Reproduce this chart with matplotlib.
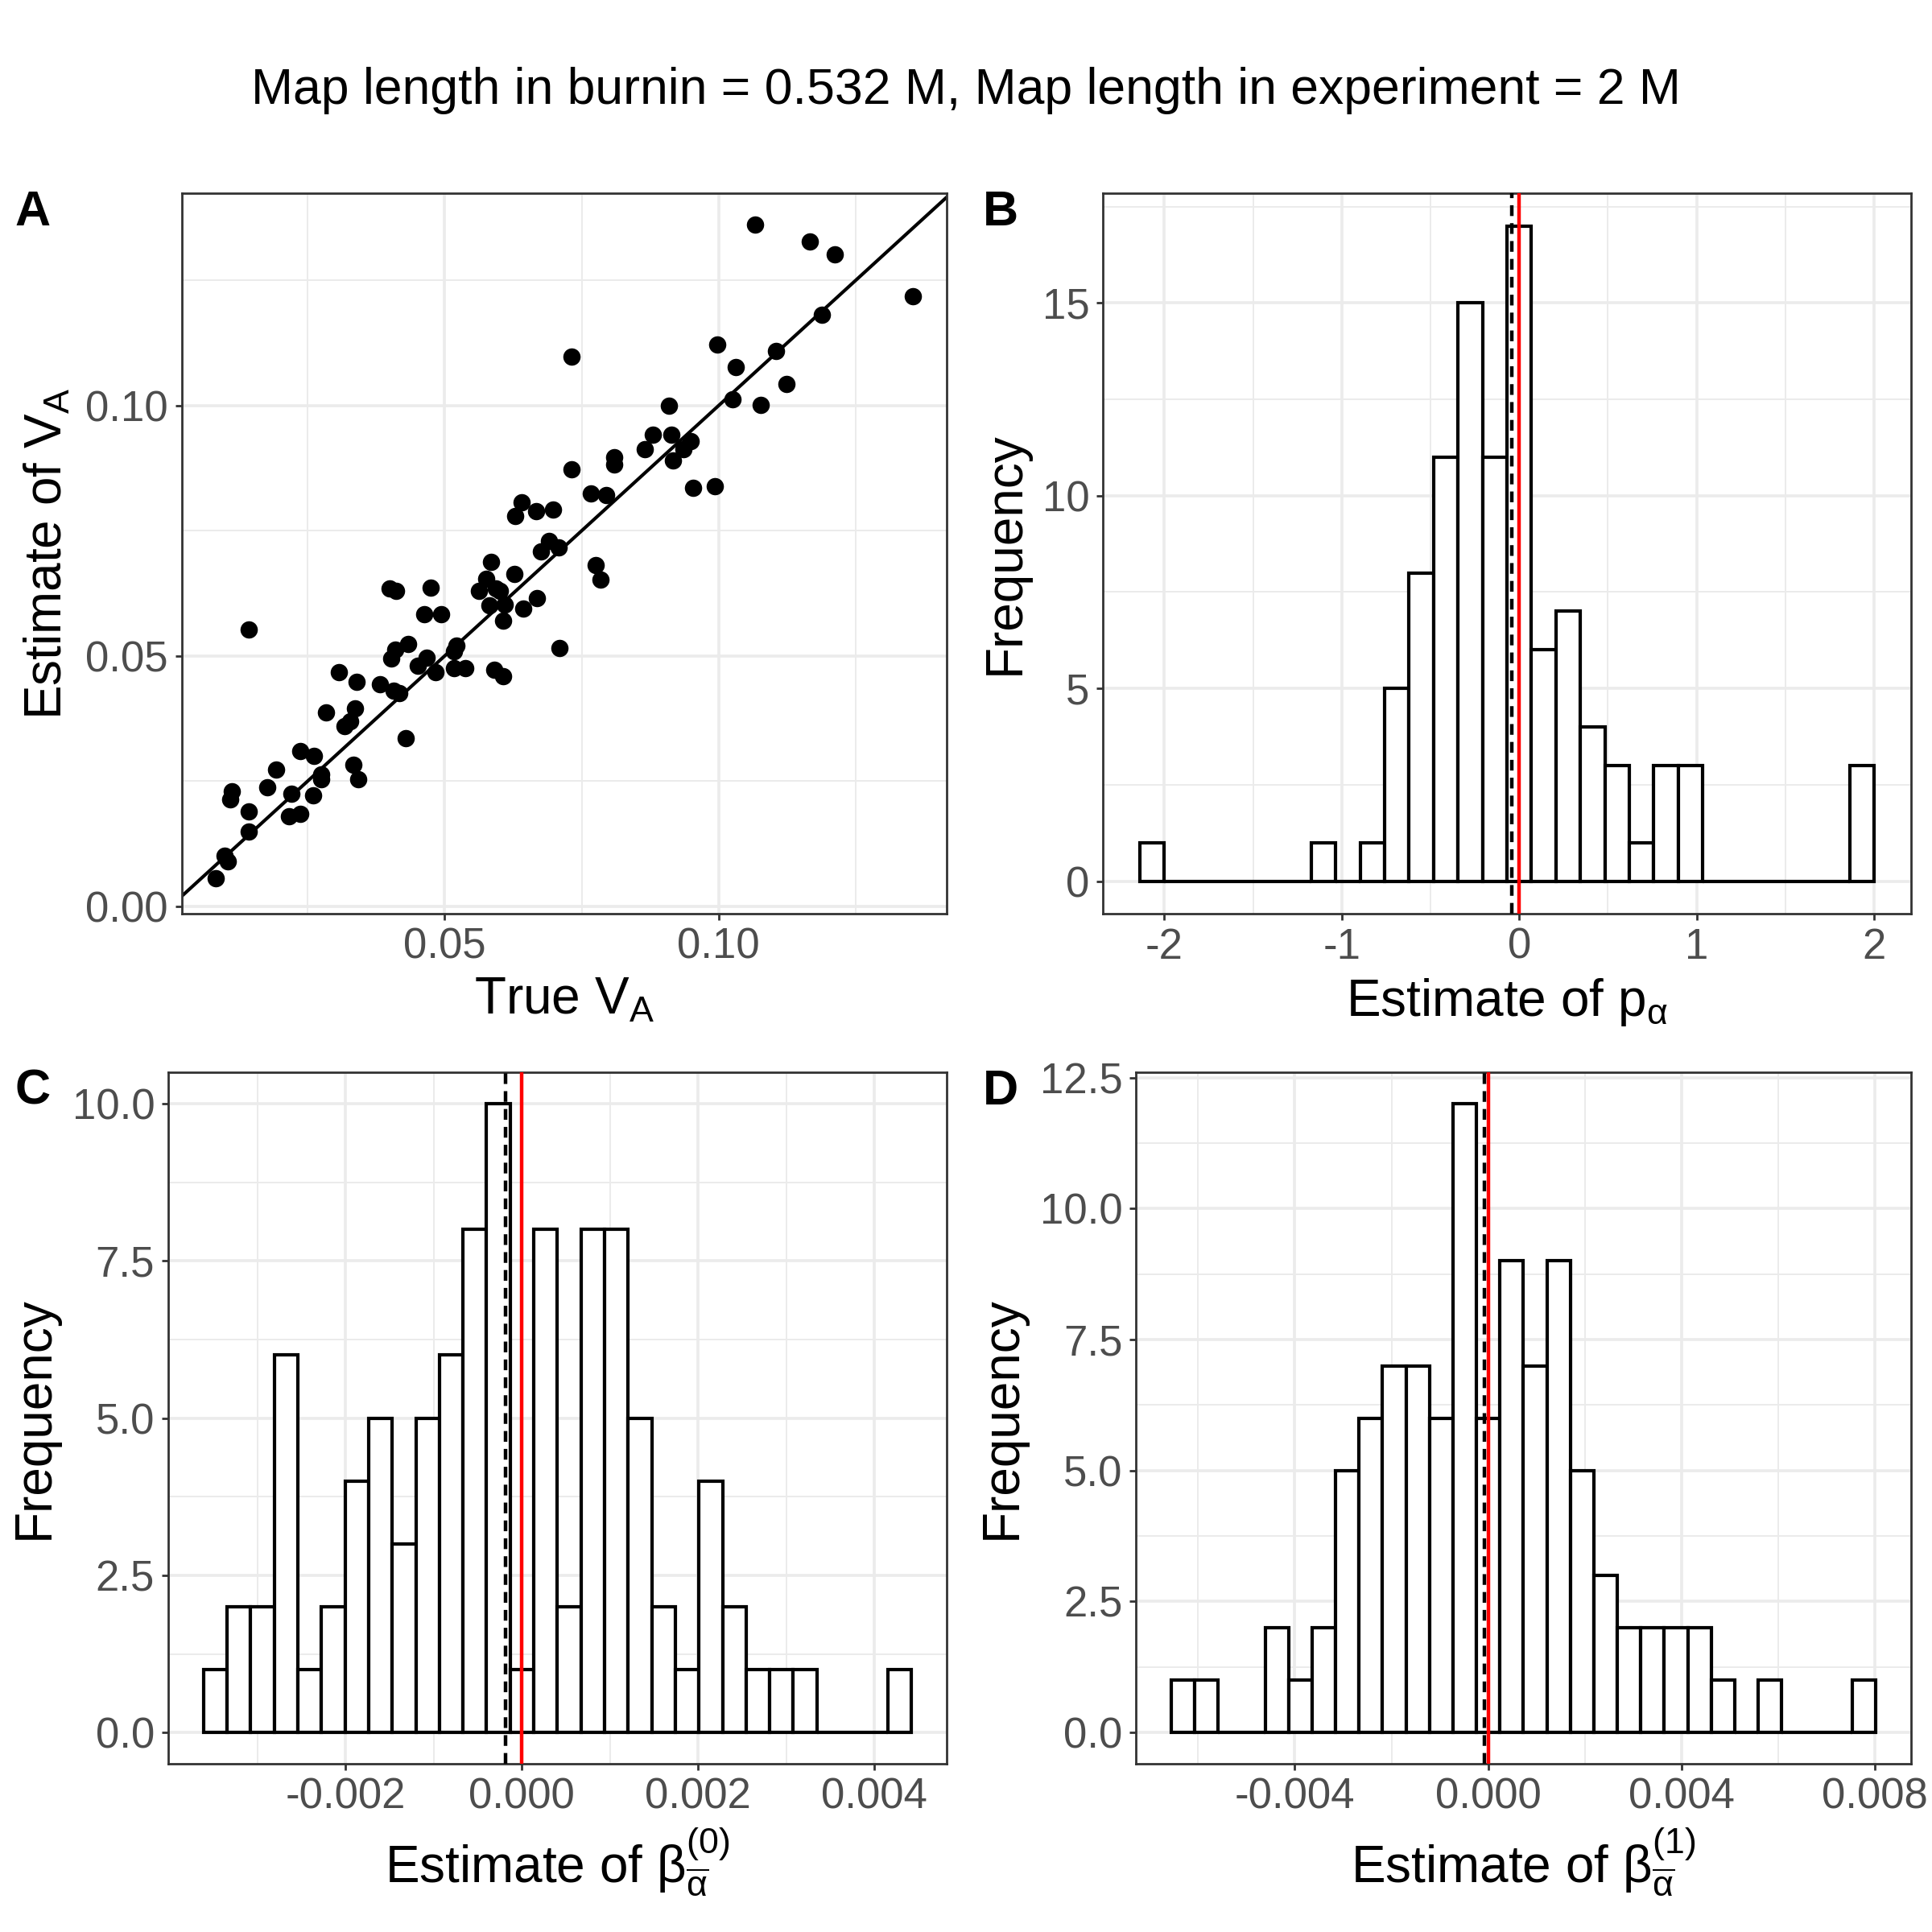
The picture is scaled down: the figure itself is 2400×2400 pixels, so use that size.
import matplotlib
matplotlib.use('Agg')
import matplotlib.pyplot as plt
import numpy as np

plt.rcParams['font.family'] = ['Liberation Sans', 'DejaVu Sans']
plt.rcParams['mathtext.fontset'] = 'custom'
plt.rcParams['mathtext.rm'] = 'Liberation Sans'
plt.rcParams['mathtext.it'] = 'Liberation Sans:italic'
plt.rcParams['axes.unicode_minus'] = False

# panel A: true vs estimated V_A
true_va = [0.0082, 0.0098, 0.0104, 0.0108, 0.0111, 0.0143, 0.0143, 0.0143, 0.0176, 0.0193,
           0.0216, 0.0221, 0.0237, 0.0236, 0.0260, 0.0261, 0.0275, 0.0275, 0.0283, 0.0307,
           0.0318, 0.0328, 0.0337, 0.0340, 0.0334, 0.0343, 0.0382, 0.0399, 0.0411, 0.0403,
           0.0410, 0.0407, 0.0417, 0.0433, 0.0429, 0.0451, 0.0462, 0.0467, 0.0475, 0.0483,
           0.0494, 0.0517, 0.0521, 0.0517, 0.0537, 0.0562, 0.0576, 0.0585, 0.0582, 0.0594,
           0.0601, 0.0610, 0.0607, 0.0591, 0.0607, 0.0627, 0.0628, 0.0640, 0.0644, 0.0669,
           0.0667, 0.0698, 0.0675, 0.0690, 0.0708, 0.0709, 0.0731, 0.0731, 0.0767, 0.0794,
           0.0775, 0.0784, 0.0810, 0.0810, 0.0865, 0.0880, 0.0909, 0.0913, 0.0917, 0.0935,
           0.0949, 0.0954, 0.0993, 0.0997, 0.1026, 0.1031, 0.1076, 0.1104, 0.1124, 0.1067,
           0.1166, 0.1212, 0.1188, 0.1355]
est_va = [0.0056, 0.0101, 0.0090, 0.0213, 0.0229, 0.0190, 0.0149, 0.0553, 0.0237, 0.0273,
          0.0180, 0.0225, 0.0184, 0.0310, 0.0221, 0.0300, 0.0254, 0.0263, 0.0387, 0.0467,
          0.0360, 0.0369, 0.0396, 0.0448, 0.0282, 0.0253, 0.0443, 0.0635, 0.0630, 0.0495,
          0.0513, 0.0430, 0.0426, 0.0524, 0.0336, 0.0480, 0.0583, 0.0497, 0.0636, 0.0467,
          0.0583, 0.0510, 0.0521, 0.0476, 0.0476, 0.0630, 0.0654, 0.0688, 0.0601, 0.0635,
          0.0630, 0.0603, 0.0570, 0.0473, 0.0460, 0.0664, 0.0779, 0.0806, 0.0594, 0.0616,
          0.0789, 0.0792, 0.0708, 0.0730, 0.0716, 0.0515, 0.1098, 0.0872, 0.0824, 0.0821,
          0.0681, 0.0653, 0.0896, 0.0882, 0.0913, 0.0942, 0.1000, 0.0941, 0.0891, 0.0913,
          0.0929, 0.0835, 0.0839, 0.1122, 0.1012, 0.1076, 0.1002, 0.1109, 0.1043, 0.1361,
          0.1327, 0.1302, 0.1181, 0.1219]

# panels B-D: histogram counts (30 bins) and bin range
p_counts = [1, 0, 0, 0, 0, 0, 0, 1, 0, 1, 5, 8, 11, 15, 11, 17, 6, 7, 4, 3,
            1, 3, 3, 0, 0, 0, 0, 0, 0, 3]
p_range = (-2.138, 2.0)
p_mean = -0.04

b0_counts = [1, 2, 2, 6, 1, 2, 4, 5, 3, 5, 6, 8, 10, 1, 8, 2, 8, 8, 5, 2,
             1, 4, 2, 1, 1, 1, 0, 0, 0, 1]
b0_range = (-0.003615, 0.00442)
b0_mean = -0.000182

b1_counts = [1, 1, 0, 0, 2, 1, 2, 5, 6, 7, 7, 6, 12, 6, 9, 7, 9, 5, 3, 2,
             2, 2, 2, 1, 0, 1, 0, 0, 0, 1]
b1_range = (-0.006555, 0.008013)
b1_mean = -0.000076

title = 'Map length in burnin = 0.532 M, Map length in experiment = 2 M'

GRID = '#EBEBEB'
DARK = '#333333'
TICKC = '#4D4D4D'
TICK_FS = 19
LAB_FS = 23


def style(ax, xmaj, ymaj, xmin, ymin):
    ax.set_facecolor('white')
    ax.set_xticks(xmaj)
    ax.set_yticks(ymaj)
    ax.set_xticks(xmin, minor=True)
    ax.set_yticks(ymin, minor=True)
    ax.grid(True, which='major', color=GRID, linewidth=1.3)
    ax.grid(True, which='minor', color=GRID, linewidth=0.7)
    ax.set_axisbelow(True)
    ax.tick_params(which='major', direction='out', length=3, width=1.0,
                   color=DARK, labelcolor=TICKC, labelsize=TICK_FS, pad=3)
    ax.tick_params(which='minor', length=0)
    for s in ax.spines.values():
        s.set_color(DARK)
        s.set_linewidth(1.0)


def expand(lo, hi, f=0.05):
    d = (hi - lo) * f
    return lo - d, hi + d


def hist_panel(ax, counts, rng, mean):
    edges = np.linspace(rng[0], rng[1], len(counts) + 1)
    w = edges[1] - edges[0]
    ax.bar(edges[:-1], counts, width=w, align='edge', color='white',
           edgecolor='black', linewidth=1.5, zorder=2)
    ax.axvline(mean, color='black', linestyle=(0, (3, 2)), linewidth=1.6, zorder=3)
    ax.axvline(0, color='red', linewidth=1.6, zorder=3)
    ax.set_xlim(*expand(rng[0], rng[1]))
    ax.set_ylim(*expand(0, max(counts)))
    ax.set_ylabel('Frequency', fontsize=LAB_FS, labelpad=6)


fig = plt.figure(figsize=(12, 12), dpi=200)
fig.text(0.5, 0.953, title, ha='center', va='center', fontsize=22.5)

# A
ax1 = fig.add_axes([0.094, 0.527, 0.396, 0.373])
style(ax1, [0.05, 0.10], [0.0, 0.05, 0.10], [0.025, 0.075, 0.125], [0.025, 0.075, 0.125])
ax1.scatter(true_va, est_va, s=60, color='black', zorder=3, linewidths=0)
ax1.axline((0, 0), slope=1, color='black', linewidth=1.5, zorder=2)
ax1.set_xlim(0.002, 0.1416)
ax1.set_ylim(-0.0015, 0.1424)
ax1.set_xticklabels(['0.05', '0.10'])
ax1.set_yticklabels(['0.00', '0.05', '0.10'])
ax1.set_xlabel(r'True $\mathrm{V_A}$', fontsize=LAB_FS, labelpad=4)
ax1.set_ylabel(r'Estimate of $\mathrm{V_A}$', fontsize=LAB_FS, labelpad=6)

# B
ax2 = fig.add_axes([0.571, 0.527, 0.418, 0.373])
style(ax2, [-2, -1, 0, 1, 2], [0, 5, 10, 15], [-1.5, -0.5, 0.5, 1.5], [2.5, 7.5, 12.5, 17.5])
hist_panel(ax2, p_counts, p_range, p_mean)
ax2.set_xlabel(r'Estimate of $\mathrm{p_{α}}$', fontsize=LAB_FS, labelpad=4)

# C
ax3 = fig.add_axes([0.087, 0.087, 0.403, 0.358])
style(ax3, [-0.002, 0.0, 0.002, 0.004], [0, 2.5, 5, 7.5, 10],
      [-0.003, -0.001, 0.001, 0.003], [1.25, 3.75, 6.25, 8.75])
hist_panel(ax3, b0_counts, b0_range, b0_mean)
ax3.set_xticklabels(['-0.002', '0.000', '0.002', '0.004'])
ax3.set_yticklabels(['0.0', '2.5', '5.0', '7.5', '10.0'])
ax3.set_xlabel(r'Estimate of $\mathrm{β}_{\overline{\mathrm{α}}}^{(0)}$', fontsize=LAB_FS, labelpad=4)

# D
ax4 = fig.add_axes([0.588, 0.087, 0.401, 0.358])
style(ax4, [-0.004, 0.0, 0.004, 0.008], [0, 2.5, 5, 7.5, 10, 12.5],
      [-0.006, -0.002, 0.002, 0.006], [1.25, 3.75, 6.25, 8.75, 11.25])
hist_panel(ax4, b1_counts, b1_range, b1_mean)
ax4.set_xticklabels(['-0.004', '0.000', '0.004', '0.008'])
ax4.set_yticklabels(['0.0', '2.5', '5.0', '7.5', '10.0', '12.5'])
ax4.set_xlabel(r'Estimate of $\mathrm{β}_{\overline{\mathrm{α}}}^{(1)}$', fontsize=LAB_FS, labelpad=4)

for lab, x, y in [('A', 0.017, 0.890), ('B', 0.518, 0.890), ('C', 0.017, 0.435), ('D', 0.518, 0.435)]:
    fig.text(x, y, lab, fontsize=22, fontweight='bold', ha='center', va='center')

fig.savefig('out.png', dpi=200, facecolor='white')
